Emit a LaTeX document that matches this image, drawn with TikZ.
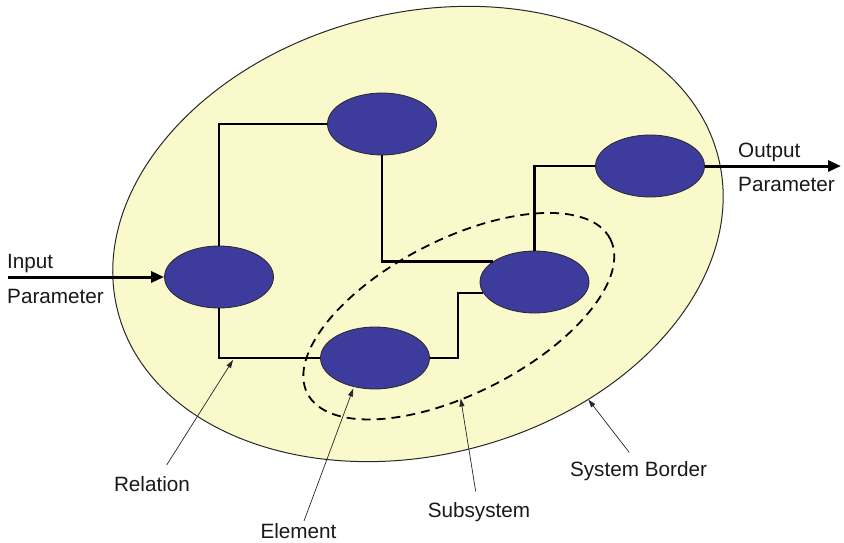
\documentclass[tikz,border=0pt]{standalone}
\usepackage{fontspec}
\setmainfont{Liberation Sans}
\usetikzlibrary{shapes.geometric,arrows.meta}
\definecolor{borderfill}{RGB}{250,249,204}
\definecolor{elemblue}{RGB}{61,60,156}
\definecolor{rim}{RGB}{40,40,40}
\begin{document}
\begin{tikzpicture}[x=1pt,y=-1pt,
  elem/.style={ellipse,draw=rim,line width=0.8pt,fill=elemblue,
    minimum width=109pt,minimum height=62pt,inner sep=0pt},
  relation/.style={line width=2.6pt,black},
  io/.style={line width=3pt,black,-{Triangle[length=13pt,width=11pt]}},
  pointer/.style={line width=0.7pt,black!85,-{Triangle[length=8pt,width=5pt]}},
  caption/.style={font=\fontsize{20.7}{24}\selectfont,text=black!90,inner sep=0pt},
  every node/.append style={font=\fontsize{20.7}{24}\selectfont}]
\useasboundingbox (0,0) rectangle (844,543);

% system border
\coordinate (sc) at (418,234);
\draw[rim,line width=1pt,fill=borderfill,rotate around={14.5:(sc)}]
  (sc) ellipse [x radius=310, y radius=221];

% elements
\node[elem] (e1) at (382,124) {};
\node[elem] (e2) at (219,277) {};
\node[elem] (e3) at (375,358) {};
\node[elem] (e4) at (534.5,282) {};
\node[elem] (e5) at (650,166) {};

% subsystem border
\coordinate (ssc) at (458.8,316.2);
\draw[black,line width=1.8pt,dash pattern=on 9pt off 6pt,rotate around={27:(ssc)}]
  (ssc) ellipse [x radius=170, y radius=77];

% relations
\draw[relation] (e2.north) |- (e1.west);
\draw[relation] (e1.south) |- (e4.154);
\draw[relation] (e4.north) |- (e5.west);
\draw[relation] (e3.east) -- ++(28,0) |- (e4.192);
\draw[relation] (e2.south) |- (e3.west);

% input / output
\coordinate (in) at (8,277);
\coordinate (out) at (841,166);
\draw[io] (in) -- (e2.west);
\draw[io] (e5.east) -- (out);
\node[caption,anchor=west] (inlbl) at (7,264) {Input};
\node[caption,anchor=west] (inpar) at (7,296) {Parameter};
\node[caption,anchor=west] (outlbl) at (738,152) {Output};
\node[caption,anchor=west] (outpar) at (738,184) {Parameter};

% annotations
\node[caption] (rel) at (152,484) {Relation};
\node[caption] (elt) at (298.5,531) {Element};
\node[caption] (sub) at (479,512) {Subsystem};
\node[caption] (sys) at (638.5,471) {System Border};
\coordinate (relA) at (166.7,465);
\coordinate (relB) at (233,360);
\coordinate (eltA) at (304,521);
\coordinate (eltB) at (353.3,388.5);
\coordinate (subA) at (475.7,491.5);
\coordinate (subB) at (460.7,398.5);
\coordinate (sysA) at (629.3,452.5);
\coordinate (sysB) at (588.3,399.5);
\draw[pointer] (relA) -- (relB);
\draw[pointer] (eltA) -- (eltB);
\draw[pointer] (subA) -- (subB);
\draw[pointer] (sysA) -- (sysB);
\end{tikzpicture}
\end{document}
